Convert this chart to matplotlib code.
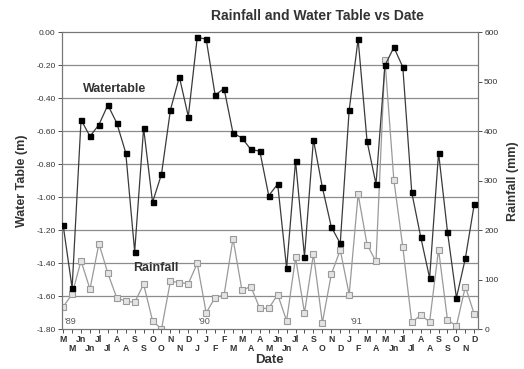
import matplotlib
matplotlib.use('Agg')
import matplotlib.pyplot as plt

plt.rcParams['font.family'] = ['Liberation Sans', 'DejaVu Sans']
plt.rcParams['axes.unicode_minus'] = False

# sample dates (Mar 1989 - Dec 1991), irregular sampling
months = ['M', 'M', 'Jn', 'Jn', 'Jl', 'Jl', 'A', 'A', 'S', 'S', 'O', 'O', 'N', 'N',
          'D', 'J', 'J', 'F', 'F', 'M', 'M', 'A', 'A', 'M', 'Jn', 'Jn', 'Jl', 'A',
          'S', 'O', 'N', 'D', 'J', 'F', 'M', 'A', 'M', 'Jn', 'Jl', 'Jl', 'A', 'A',
          'S', 'S', 'O', 'N', 'D']

watertable = [-1.17, -1.55, -0.53, -0.63, -0.56, -0.44, -0.55, -0.73, -1.33, -0.58,
              -1.03, -0.86, -0.47, -0.27, -0.51, -0.03, -0.04, -0.38, -0.34, -0.61,
              -0.64, -0.71, -0.72, -0.99, -0.92, -1.43, -0.78, -1.36, -0.65, -0.94,
              -1.18, -1.28, -0.47, -0.04, -0.66, -0.92, -0.20, -0.09, -0.21, -0.97,
              -1.24, -1.49, -0.73, -1.21, -1.61, -1.37, -1.04]

rainfall = [45, 71, 138, 81, 173, 113, 63, 57, 54, 91, 17, 0, 97, 94, 92, 133,
            33, 64, 69, 183, 79, 86, 42, 42, 70, 17, 145, 33, 152, 13, 111, 160,
            70, 273, 171, 137, 545, 301, 166, 14, 28, 15, 161, 18, 7, 86, 30]

year_marks = {0: "'89", 15: "'90", 32: "'91"}

fig = plt.figure(figsize=(5.24, 3.69), dpi=100)
ax = fig.add_axes([0.118, 0.108, 0.794, 0.804])
ax2 = ax.twinx()

x = list(range(len(months)))

ax.set_zorder(2)
ax.patch.set_visible(False)

ax2.plot(x, rainfall, color='#9a9a9a', lw=0.9, marker='s', ms=4,
         mfc='#e4e4e4', mec='#9a9a9a', mew=0.8, zorder=2)
ax.plot(x, watertable, color='#3a3a3a', lw=0.9, marker='s', ms=3.6,
        mfc='black', mec='black', zorder=3)

ax.set_ylim(-1.80, 0.0)
ax2.set_ylim(0, 600)
ax.set_xlim(-0.15, 46.4)

yt = [-1.8 + 0.2 * k for k in range(10)]
ax.set_yticks(yt)
ax.set_yticklabels(['%.2f' % v if abs(v) > 1e-9 else '0.00' for v in yt])
ax2.set_yticks(range(0, 601, 100))
ax2.yaxis.grid(False)
for v in yt[1:-1]:
    ax2.axhline((v + 1.8) / 1.8 * 600, color='#8c8c8c', lw=0.9, zorder=0)

ax.set_xticks(x)
ax.set_xticklabels([m if i % 2 == 0 else '\n' + m for i, m in enumerate(months)])

for a in (ax, ax2):
    a.tick_params(labelsize=6, length=3, width=0.6, colors='#333333', pad=1.5)
    for s in a.spines.values():
        s.set_color('#777777')
        s.set_linewidth(0.8)
ax.tick_params(axis='x', labelsize=6.3, pad=1)
for lbl in ax.get_xticklabels():
    lbl.set_fontweight('bold')
    lbl.set_linespacing(1.0)

for i, t in year_marks.items():
    ax.text(i + 0.1, -1.78, t, fontsize=6.5, color='#555555', va='bottom', ha='left')

ax.text(2.2, -0.36, 'Watertable', fontsize=9, fontweight='bold', color='#333333')
ax.text(7.8, -1.45, 'Rainfall', fontsize=9, fontweight='bold', color='#333333')

fig.suptitle('Rainfall and Water Table vs Date', x=0.605, y=0.975,
             fontsize=10, fontweight='bold', color='#333333')
ax.set_xlabel('Date', fontsize=9.5, fontweight='bold', color='#333333', labelpad=1)
ax.set_ylabel('Water Table (m)', fontsize=9, fontweight='bold', color='#333333', labelpad=6)
ax2.set_ylabel('Rainfall (mm)', fontsize=9, fontweight='bold', color='#333333', labelpad=6)

fig.savefig('out.png', dpi=100, facecolor='white')
